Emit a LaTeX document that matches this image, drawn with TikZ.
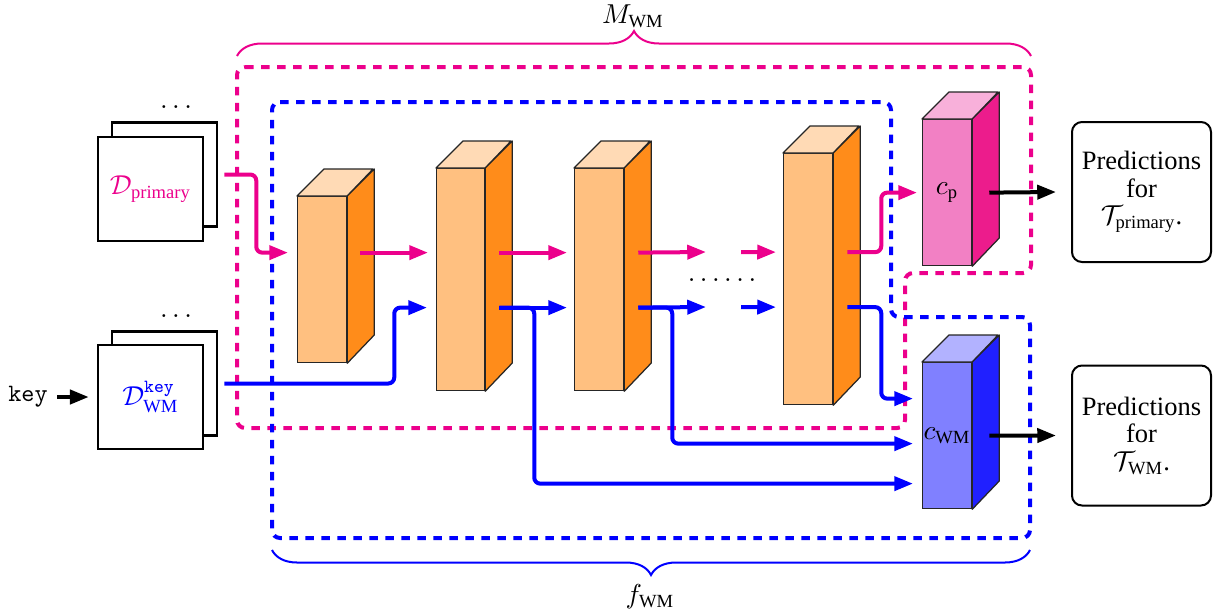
\documentclass[tikz,border=0pt]{standalone}
\usepackage{amsmath}
\usepackage{fontspec}
\setmainfont{Liberation Serif}
\usetikzlibrary{arrows.meta,decorations.pathreplacing,calc}
\definecolor{pinkc}{RGB}{236,0,140}
\definecolor{bluec}{RGB}{0,0,255}
\definecolor{orfront}{RGB}{255,192,128}
\definecolor{orside}{RGB}{255,140,26}
\definecolor{ortop}{RGB}{255,218,181}
\definecolor{pkfront}{RGB}{242,128,196}
\definecolor{pkside}{RGB}{236,28,140}
\definecolor{pktop}{RGB}{248,176,218}
\definecolor{blfront}{RGB}{128,128,255}
\definecolor{blside}{RGB}{32,32,255}
\definecolor{bltop}{RGB}{178,178,255}
\tikzset{
  cubeface/.style={draw=black!85, line width=0.5pt, inner sep=0pt, anchor=north west},
  cubeedge/.style={draw=black!85, line width=0.5pt, line join=round},
  databox/.style={draw=black, fill=white, line width=1pt, minimum width=42pt, minimum height=41.6pt, inner sep=0pt},
  predbox/.style={draw=black, line width=0.8pt, rounded corners=4pt, minimum width=55.6pt, minimum height=56pt, inner sep=0pt, align=center},
  tip/.style={-{Triangle[length=7.5pt,width=5.6pt]}},
  parr/.style={draw=pinkc, line width=1.6pt, tip, rounded corners=2.4pt},
  barr/.style={draw=bluec, line width=1.6pt, tip, rounded corners=2.4pt},
  karr/.style={draw=black, line width=1.6pt, tip},
  pdash/.style={draw=pinkc, line width=1.6pt, dash pattern=on 3.4pt off 3pt, rounded corners=3.2pt},
  bdash/.style={draw=bluec, line width=1.6pt, dash pattern=on 3.4pt off 3pt, rounded corners=3.2pt},
  bracestyle/.style={line width=0.8pt, decorate, decoration={brace, amplitude=10pt}},
}
% name, x left, y top, width, height, colour prefix, label
\newcommand\mycube[7]{%
  \node[cubeface, fill=#6front, minimum width=#4*0.4pt, minimum height=#5*0.4pt] (#1) at (#2,#3) {#7};
  \draw[cubeedge, fill=#6top] (#1.north west) -- ++(27,-27) -- ++(#4,0) -- (#1.north east) -- cycle;
  \draw[cubeedge, fill=#6side] (#1.north east) -- ++(27,-27) -- ++(0,#5) -- (#1.south east) -- cycle;
}
\begin{document}
\begin{tikzpicture}[x=0.4pt, y=-0.4pt, font=\fontsize{10.6pt}{11pt}\selectfont]
\useasboundingbox (0,0) rectangle (1214,615);

% dashed regions
\draw[pdash] (237,67) -- (1031,67) -- (1031,273) -- (905,273) -- (905,428) -- (237,428) -- cycle;
\draw[bdash] (272,102) -- (891,102) -- (891,317) -- (1030,317) -- (1030,538) -- (272,538) -- cycle;

% braces
\coordinate (mbl) at (237,56);
\coordinate (mbr) at (1031,56);
\coordinate (fbr) at (1030,550);
\coordinate (fbl) at (272,550);
\draw[pinkc, bracestyle] (mbl) -- (mbr);
\draw[bluec, bracestyle] (fbr) -- (fbl);
\node (mlabel) at (633,16) {$M_{\text{WM}}$};
\node (flabel) at (650,597) {$f_{\text{WM}}$};

% data stacks
\node[databox] (dpback) at (164.5,174.5) {};
\node[databox, text=pinkc] (dp) at (150.5,189) {$\mathcal{D}_{\text{primary}}$};
\node (dpdots) at (176,107) {$\ldots$};
\node[databox] (dwback) at (164.5,383.5) {};
\node[databox, text=bluec] (dw) at (150.5,397) {$\mathcal{D}_{\text{WM}}^{\raisebox{1.2pt}{$\scriptstyle\texttt{key}$}}$};
\node (dwdots) at (176,316) {$\ldots$};
\node[inner sep=0pt, font=\fontsize{10pt}{11pt}\ttfamily] (keynode) at (28,397) {key};
\draw[karr] ([shift={(9,0)}]keynode.east) -- ([shift={(-8,0)}]dw.west);

% cuboids
\mycube{c1}{297}{196}{49}{166}{or}{}
\mycube{c2}{436}{168}{48}{222}{or}{}
\mycube{c3}{574}{168}{49}{222}{or}{}
\mycube{c4}{783}{153}{49}{251}{or}{}
\mycube{cp}{922}{119}{49}{146}{pk}{$c_{\text{p}}$}
\mycube{cw}{922}{362}{49}{146}{bl}{$c_{\text{WM}}$}

% dots between
\node (middots) at (722,280) {$\ldots\ldots$};
\coordinate (pgapa) at (706,252);
\coordinate (pgapb) at (741,252);
\coordinate (bgapa) at (706,307);
\coordinate (bgapb) at (741,307);

% magenta path
\draw[parr] ([shift={(6,0)}]dpback.east) -- ++(32,0) |- ([shift={(-9,-27)}]c1.west);
\draw[parr] ([shift={(13,-27)}]c1.east) -- ([shift={(-8,-27)}]c2.west);
\draw[parr] ([shift={(14,-27)}]c2.east) -- ([shift={(-7,-27)}]c3.west);
\draw[parr] ([shift={(14,-27)}]c3.east) -- (pgapa);
\draw[parr] (pgapb) -- ([shift={(-7,-27)}]c4.west);
\draw[parr] ([shift={(14,-27)}]c4.east) -- ++(34,0) |- ([shift={(-5,0)}]cp.west);

% blue path
\draw[barr] ([shift={(6,0)}]dwback.east) -- ++(170,0) |- ([shift={(-9,28)}]c2.west);
\draw[barr] ([shift={(14,28)}]c2.east) -- ([shift={(-7,28)}]c3.west);
\draw[barr] ([shift={(14,28)}]c3.east) -- (bgapa);
\draw[barr] (bgapb) -- ([shift={(-7,28)}]c4.west);
\draw[barr] ([shift={(14,28)}]c4.east) -- ++(34,0) |- ([shift={(-9,-37)}]cw.west);
\draw[barr] ([shift={(14,28)}]c2.east) -- ++(35,0) |- ([shift={(-9,48)}]cw.west);
\draw[barr] ([shift={(14,28)}]c3.east) -- ++(34,0) |- ([shift={(-9,8)}]cw.west);

% predictions
\node[predbox] (pred1) at (1141.5,192) {Predictions\\for\\$\mathcal{T}_{\text{primary}}$.};
\node[predbox] (pred2) at (1141.5,435.5) {Predictions\\for\\$\mathcal{T}_{\text{WM}}$.};
\draw[karr] ([shift={(17,0)}]cp.east) -- ([shift={(-15,0)}]pred1.west);
\draw[karr] ([shift={(17,0)}]cw.east) -- ([shift={(-15,0)}]pred2.west);
\end{tikzpicture}
\end{document}
